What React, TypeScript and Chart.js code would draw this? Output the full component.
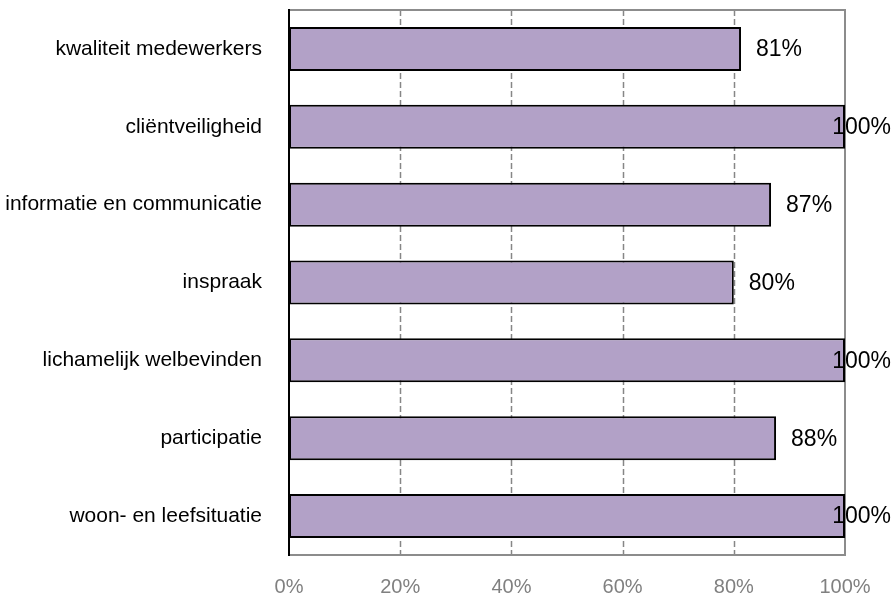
import React, { useEffect, useRef } from "react";
import { Chart, registerables } from "chart.js";

Chart.register(...registerables);

const categories = [
  "kwaliteit medewerkers",
  "cliëntveiligheid",
  "informatie en communicatie",
  "inspraak",
  "lichamelijk welbevinden",
  "participatie",
  "woon- en leefsituatie",
];
const values = [81.3, 100, 86.7, 80.0, 100, 87.6, 100];
const xTicks = [0, 20, 40, 60, 80, 100];

const FONT = "'Liberation Sans', Arial, Helvetica, sans-serif";

const framePlugin = {
  id: "frame",
  beforeDatasetsDraw(chart: any) {
    const { ctx, chartArea } = chart;
    const xs = chart.scales.x;
    const { left, right, top, bottom } = chartArea;
    ctx.save();
    // dashed grid lines
    ctx.strokeStyle = "#868686";
    ctx.lineWidth = 1.5;
    ctx.setLineDash([6, 3]);
    for (const t of xTicks) {
      if (t === 0 || t === 100) continue;
      const x = Math.round(xs.getPixelForValue(t)) + 0.5;
      ctx.beginPath();
      ctx.moveTo(x, top);
      ctx.lineTo(x, bottom);
      ctx.stroke();
    }
    ctx.setLineDash([]);
    // gray frame (top, right, bottom)
    ctx.strokeStyle = "#8c8c8c";
    ctx.lineWidth = 2;
    ctx.beginPath();
    ctx.moveTo(left, top);
    ctx.lineTo(right, top);
    ctx.lineTo(right, bottom);
    ctx.lineTo(left, bottom);
    ctx.stroke();
    // left axis black
    ctx.strokeStyle = "#000000";
    ctx.lineWidth = 2;
    ctx.beginPath();
    ctx.moveTo(left, top - 1);
    ctx.lineTo(left, bottom + 1);
    ctx.stroke();
    ctx.restore();
  },
  afterDatasetsDraw(chart: any) {
    const { ctx } = chart;
    const meta = chart.getDatasetMeta(0);
    ctx.save();
    ctx.font = `23px ${FONT}`;
    ctx.fillStyle = "#000000";
    ctx.textBaseline = "middle";
    ctx.textAlign = "left";
    meta.data.forEach((bar: any, i: number) => {
      const txt = Math.round(values[i]) + "%";
      const w = ctx.measureText(txt).width;
      let x = bar.x + 15;
      if (x + w > chart.width - 2) x = chart.width - 2 - w;
      ctx.fillText(txt, x, bar.y + 1);
    });
    ctx.restore();
  },
};

export default function App() {
  const ref = useRef<HTMLCanvasElement | null>(null);
  useEffect(() => {
    document.body.style.margin = "0";
    const canvas = ref.current;
    if (!canvas) return;
    const chart = new Chart(canvas, {
      type: "bar",
      data: {
        labels: categories,
        datasets: [
          {
            data: values,
            backgroundColor: "#b2a1c7",
            borderColor: "#000000",
            borderWidth: 2,
            borderSkipped: false,
            barPercentage: 1,
            categoryPercentage: 0.565,
          },
        ],
      },
      options: {
        indexAxis: "y",
        responsive: false,
        animation: false,
        layout: { padding: { top: 10, right: 48, left: 0, bottom: 0 } },
        plugins: {
          legend: { display: false },
          tooltip: { enabled: false },
        },
        scales: {
          x: {
            min: 0,
            max: 100,
            afterBuildTicks(scale: any) {
              scale.ticks = xTicks.map((v) => ({ value: v }));
            },
            afterFit(scale: any) {
              scale.height = 41;
              scale.paddingLeft = 0;
              scale.paddingRight = 0;
            },
            grid: { display: false },
            border: { display: false },
            ticks: {
              padding: 12,
              color: "#808080",
              font: { family: FONT, size: 20 },
              maxRotation: 0,
              callback: (v: any) => v + "%",
            },
          },
          y: {
            afterFit(scale: any) {
              scale.width = 289;
              scale.paddingTop = 0;
              scale.paddingBottom = 0;
            },
            grid: { display: false },
            border: { display: false },
            ticks: {
              padding: 19,
              color: "#000000",
              font: { family: FONT, size: 21 },
            },
          },
        },
      },
      plugins: [framePlugin],
    } as any);
    return () => chart.destroy();
  }, []);
  return (
    <div style={{ width: 893, height: 596 }}>
      <canvas ref={ref} width={893} height={596} style={{ display: "block" }} />
    </div>
  );
}
